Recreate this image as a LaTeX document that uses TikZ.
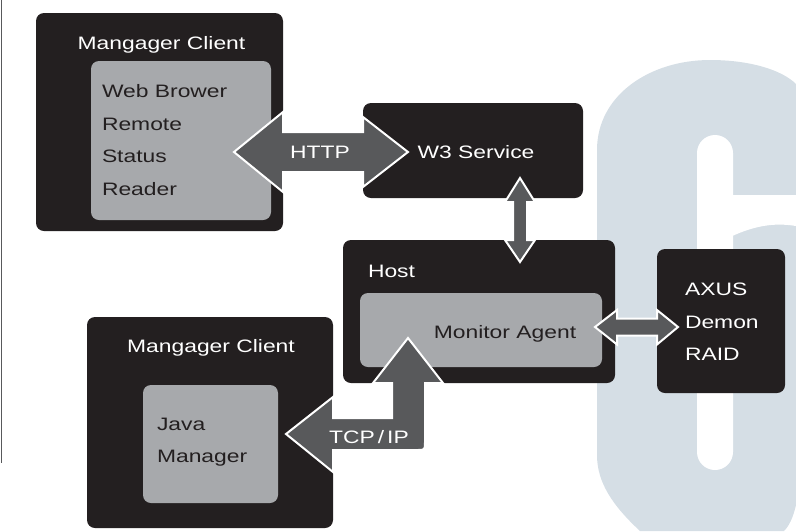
\documentclass[tikz,border=0pt]{standalone}
\usepackage{fontspec}
\setmainfont{Liberation Sans}[FakeStretch=1.27]
\usepackage{tikz}
\definecolor{boxblack}{HTML}{231F20}
\definecolor{boxgray}{HTML}{A7A9AC}
\definecolor{arrowgray}{HTML}{58595B}
\definecolor{sixblue}{HTML}{D5DEE5}

\begin{document}
\begin{tikzpicture}[x=1pt,y=-1pt,
    darkbox/.style={rectangle,rounded corners=8pt,fill=boxblack,inner sep=0pt},
    greybox/.style={rectangle,rounded corners=8pt,fill=boxgray,inner sep=0pt},
    wlabel/.style={text=white,inner sep=0pt,font=\fontsize{18}{32.5}\selectfont,align=left},
    klabel/.style={text=boxblack,inner sep=0pt,font=\fontsize{18}{32.5}\selectfont,align=left},
    blockarrow/.style={fill=arrowgray,draw=white,line width=2pt}]

  \useasboundingbox (0,0) rectangle (796,531);

  % big "6" in the background
  \fill[sixblue] (640,531) .. controls (612,505) and (597,482) .. (597,455)
    -- (597,150) .. controls (597,95) and (650,60) .. (710,60)
    .. controls (750,60) and (782,70) .. (796,84)
    -- (796,505) .. controls (793,518) and (789,526) .. (784,531) -- cycle;
  \fill[white,rounded corners=18pt] (697,135) rectangle (733,470);
  \fill[white] (715,195) -- (796,195) -- (796,226)
    .. controls (772,222) and (748,226) .. (715,245) -- cycle;

  % rule at the left edge
  \draw[arrowgray,line width=1.5pt] (1.5,0) -- (1.5,463);

  % boxes
  \node[darkbox,minimum width=247pt,minimum height=218pt] (mcTop) at (159.5,122) {};
  \node[greybox,minimum width=180pt,minimum height=159pt] (mcTopIn) at (181,140.5) {};
  \node[darkbox,minimum width=220pt,minimum height=95pt] (w3) at (473,150.5) {};
  \node[darkbox,minimum width=272pt,minimum height=143pt] (host) at (479,311.5) {};
  \node[greybox,minimum width=242pt,minimum height=74pt] (agent) at (481,330) {};
  \node[darkbox,minimum width=128pt,minimum height=144pt] (axus) at (721,321) {};
  \node[darkbox,minimum width=246pt,minimum height=211pt] (mcBot) at (210,422.5) {};
  \node[greybox,minimum width=135pt,minimum height=118pt] (mcBotIn) at (210.5,444) {};

  \node[wlabel,anchor=base] (mcTopTitle) at ([xshift=2pt,yshift=-37pt]mcTop.north) {Mangager Client};
  \node[klabel,anchor=base west] (browser) at ([xshift=11pt,yshift=-134.5pt]mcTopIn.north west) {Web Brower\\Remote\\Status\\Reader};
  \node[wlabel,anchor=base] (w3Text) at ([xshift=3pt,yshift=-7.5pt]w3.center) {W3 Service};
  \node[wlabel,anchor=base west] (hostText) at ([xshift=25pt,yshift=-38pt]host.north west) {Host};
  \node[klabel,anchor=base] (agentText) at ([xshift=24pt,yshift=-8pt]agent.center) {Monitor Agent};
  \node[wlabel,anchor=base west] (axusText) at ([xshift=28pt,yshift=-112pt]axus.north west) {AXUS\\Demon\\RAID};
  \node[wlabel,anchor=base] (mcBotTitle) at ([xshift=1pt,yshift=-36pt]mcBot.north) {Mangager Client};
  \node[klabel,anchor=base west] (javaText) at ([xshift=14pt,yshift=-78pt]mcBotIn.north west) {Java\\Manager};

  % block arrows
  \coordinate (httpL) at (234,152);
  \coordinate (httpR) at (408,152);
  \draw[blockarrow] (httpL) -- ++(49,-40) -- ++(0,20) -- ++(80,0) -- ++(0,-15) -- (httpR)
    -- ++(-45,35) -- ++(0,-15) -- ++(-80,0) -- ++(0,20) -- cycle;
  \node[wlabel,anchor=base] (httpText) at (320,158) {HTTP};

  \coordinate (w3Tip) at (520,178);
  \coordinate (hostTip) at (520,262);
  \draw[blockarrow] (w3Tip) -- ++(15,24) -- ++(-8,0) -- ++(0,38) -- ++(8,0) -- (hostTip)
    -- ++(-15,-22) -- ++(8,0) -- ++(0,-38) -- ++(-8,0) -- cycle;

  \coordinate (agentTip) at (595,327);
  \coordinate (axusTip) at (678,327);
  \draw[blockarrow] (agentTip) -- ++(22,-17) -- ++(0,8.5) -- ++(40,0) -- ++(0,-8.5) -- (axusTip)
    -- ++(-21,17.5) -- ++(0,-9) -- ++(-40,0) -- ++(0,9) -- cycle;

  \coordinate (javaTip) at (286,434);
  \coordinate (monTip) at (408,338);
  \draw[blockarrow] (javaTip) -- (333,397) -- (333,418) -- (392,418) -- (392,383) -- (373,383)
    -- (monTip) -- (443,383) -- (425,383) -- (425,442) .. controls (425,450) .. (417,450)
    -- (333,450) -- (333,472) -- cycle;
  \node[wlabel,anchor=base] (tcpText) at (369,443) {TCP\,/\,IP};
\end{tikzpicture}
\end{document}
